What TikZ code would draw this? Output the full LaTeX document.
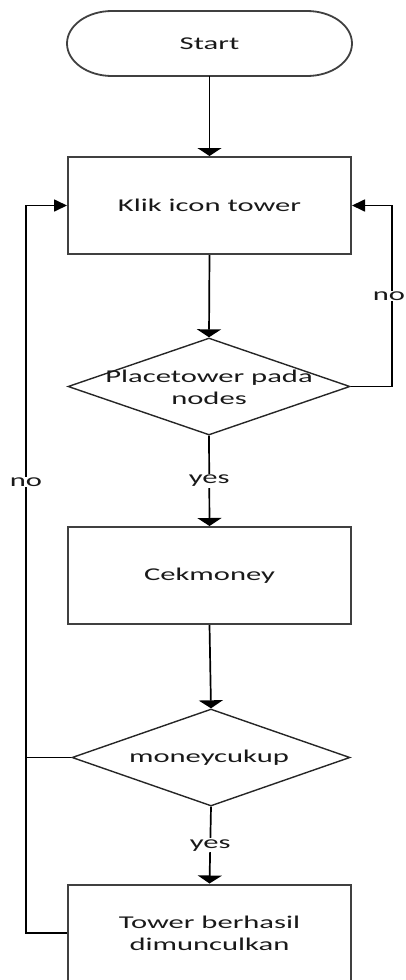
\documentclass[tikz,border=0pt]{standalone}
\usepackage{fontspec}
\setmainfont{Carlito}[FakeStretch=1.7]
\usetikzlibrary{arrows.meta,shapes.geometric}
\tikzset{
  box/.style={rectangle,draw=black!75,line width=2pt,minimum width=283pt,minimum height=97pt,inner sep=0pt},
  dia/.style={diamond,draw=black!85,line width=1.4pt,minimum width=282pt,minimum height=97pt,inner sep=0pt},
  txt/.style={align=center,inner sep=0pt,text=black!90},
  lab/.style={fill=white,inner sep=1pt,text=black!90},
  conn/.style={draw=black,line width=1.7pt},
  varr/.style={conn,-{Triangle[length=8pt,width=24pt]}},
  harr/.style={conn,-{Triangle[length=13pt,width=12pt]}}
}
\begin{document}
\begin{tikzpicture}[x=1pt,y=-1pt,font=\fontsize{18}{22}\selectfont]
\useasboundingbox (0,0) rectangle (406,980);
% Start terminal
\node[txt,minimum width=285pt,minimum height=65pt] (start) at (209.5,43.5) {Start};
\draw[draw=black!75,line width=1.8pt] (112,11) -- (307,11) arc (90:-90:45pt and 32.5pt) -- (112,76) arc (270:90:45pt and 32.5pt) -- cycle;
% process boxes
\node[box,txt] (klik) at (209.5,205.5) {Klik icon tower};
\node[dia] (d1) at (209,386.5) {};
\node[txt] (d1t) at (209,387) {Placetower pada\\nodes};
\node[box,txt] (cek) at (209.5,575.5) {Cekmoney};
\node[dia,minimum width=278pt] (d2) at (211,757.5) {};
\node[txt] (d2t) at (209,758) {moneycukup};
\node[box,txt] (fin) at (209.5,933) {Tower berhasil\\dimunculkan};
% connectors
\draw[varr] (start.south) -- (klik.north);
\draw[varr] (klik.south) -- (d1.north);
\draw[varr] (d1.south) -- node[lab]{yes} (cek.north);
\draw[harr] (d1.east) -- (392,386.5) |- node[pos=0.25,lab,xshift=-3pt]{no} (klik.east);
\draw[varr] (cek.south) -- (d2.north);
\draw[varr] (d2.south) -- node[lab]{yes} (fin.north);
\draw[conn] (d2.west) -- (26,757.5);
\draw[harr] (fin.west) -- (26,933) |- node[pos=0.31,lab]{no} (klik.west);
\end{tikzpicture}
\end{document}
